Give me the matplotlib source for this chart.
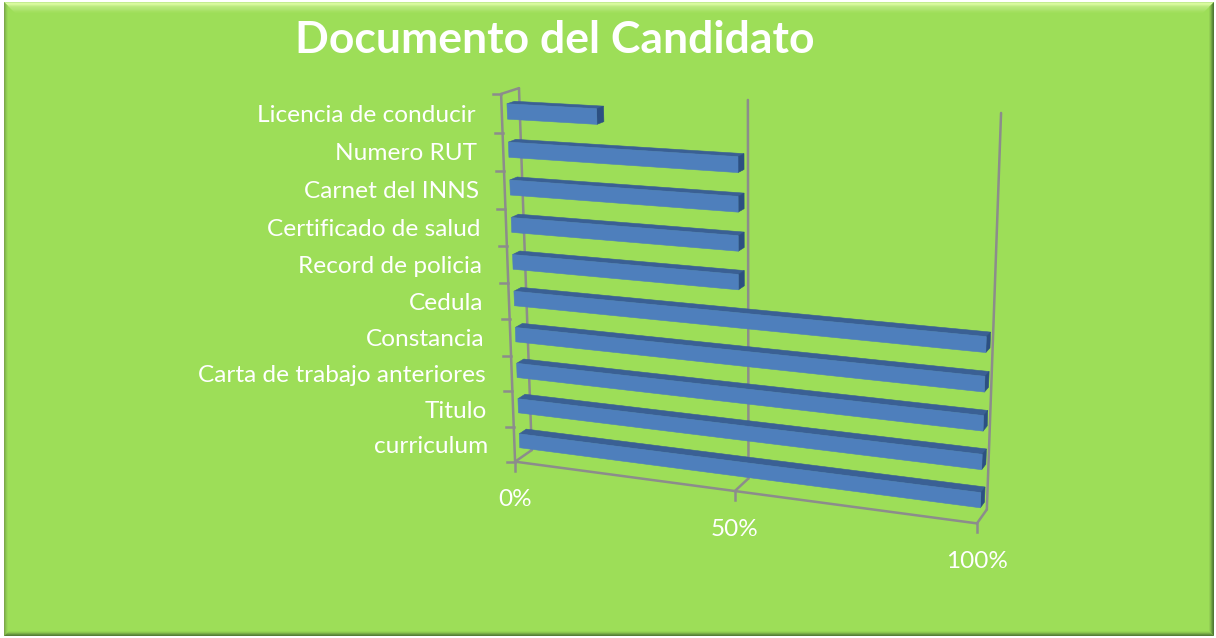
import numpy as np
import matplotlib
matplotlib.use('Agg')
import matplotlib.pyplot as plt

categories = ['curriculum', 'Titulo', 'Carta de trabajo anteriores', 'Constancia', 'Cedula',
              'Record de policia', 'Certificado de salud', 'Carnet del INNS', 'Numero RUT',
              'Licencia de conducir']
values = [100, 100, 100, 100, 100, 50, 50, 50, 50, 20]
x_ticks = [0, 50, 100]
x_tick_labels = ['0%', '50%', '100%']
title = 'Documento del Candidato'

W, H = 1216, 638
GREEN = '#9DDE58'
GRID = '#8C8C8C'
FRONT = '#4E7FBC'
TOP = '#3A6094'
SIDE = '#2C5082'

# where corners of the 3d box land in the picture: (value, category, depth) -> (px, py)
box_world = np.array([[0, 0, 0], [50, 0, 0], [100, 0, 0], [0, 0, 1], [50, 0, 1], [100, 0, 1],
                      [0, 10, 0], [0, 10, 1], [50, 10, 1], [100, 10, 1]], float)
box_pixel = np.array([[515, 462], [735, 491], [977, 523], [532, 450], [748, 478], [987, 510],
                      [501, 94], [519, 88], [748, 100], [1001, 113]], float)


def fit_camera(world, pixel):
    rows = []
    for (a, b, c), (u, v) in zip(world, pixel):
        p = [a, b, c, 1]
        rows.append(p + [0, 0, 0, 0] + [-u * q for q in p])
        rows.append([0, 0, 0, 0] + p + [-v * q for q in p])
    return np.linalg.svd(np.array(rows))[2][-1].reshape(3, 4)


cam = fit_camera(box_world, box_pixel)


def project(a, b, c):
    u, v, w = cam @ np.array([a, b, c, 1.0])
    return u / w, v / w


fig = plt.figure(figsize=(W / 100, H / 100), dpi=100)
fig.patch.set_facecolor('white')
ax = fig.add_axes([0, 0, 1, 1])
ax.set_xlim(0, W)
ax.set_ylim(H, 0)
ax.axis('off')

# chart area with bevelled edges
L, T, R, B = 4, 2, 1214, 636
ax.fill([L, R, R, L], [T, T, B, B], color=GREEN, lw=0, zorder=0)
top_band = ['#C4EC90', '#D9FA9F', '#D6F89A', '#C8F08E', '#BCEA80', '#B6E878', '#B2E675', '#AEE470',
            '#A8E268', '#A4E060', '#A0DF5C']
for i, c in enumerate(top_band):
    ax.fill([L + i, R - i, R - i - 1, L + i + 1], [T + i, T + i, T + i + 1, T + i + 1], color=c, lw=0, zorder=1)
left_band = ['#7DA84A', '#86BC4E', '#90CC52', '#98D856']
for i, c in enumerate(left_band):
    ax.fill([L + i, L + i + 1, L + i + 1, L + i], [T + i, T + i + 1, B - i - 1, B - i], color=c, lw=0, zorder=1)
right_band = ['#4F7A32', '#5E8C3A', '#72A544', '#86BE4C', '#94D054']
for i, c in enumerate(right_band):
    ax.fill([R - i, R - i - 1, R - i - 1, R - i], [T + i, T + i + 1, B - i - 1, B - i], color=c, lw=0, zorder=1)
bottom_band = ['#567F36', '#66943E', '#7AAE48', '#8CC650', '#96D654']
for i, c in enumerate(bottom_band):
    ax.fill([L + i, R - i, R - i - 1, L + i + 1], [B - i, B - i, B - i - 1, B - i - 1], color=c, lw=0, zorder=1)


def line3d(p, q, z=2):
    a, b = project(*p), project(*q)
    ax.plot([a[0], b[0]], [a[1], b[1]], color=GRID, lw=1.8, zorder=z, solid_capstyle='round')


# walls and gridlines
line3d((0, 0, 0), (0, 10, 0))
line3d((0, 10, 0), (0, 10, 1))
line3d((0, 0, 0), (100, 0, 0), z=2)
for t in x_ticks:
    line3d((t, 0, 0), (t, 0, 1))
    line3d((t, 0, 1), (t, 10, 1))
    px, py = project(t, 0, 0)
    ax.plot([px, px], [py, py + 9], color=GRID, lw=1.8, zorder=2)
for k in range(len(categories) + 1):
    px, py = project(0, k, 0)
    ax.plot([px - 8, px], [py, py], color=GRID, lw=1.8, zorder=2)

# bars
bar_h = 0.4
d0, d1 = 0.3, 0.72
for i, val in enumerate(values):
    y0, y1 = i + 0.5 - bar_h / 2, i + 0.5 + bar_h / 2
    faces = [
        ([(0, y1, d0), (val, y1, d0), (val, y1, d1), (0, y1, d1)], TOP),
        ([(val, y0, d0), (val, y0, d1), (val, y1, d1), (val, y1, d0)], SIDE),
        ([(0, y0, d0), (val, y0, d0), (val, y1, d0), (0, y1, d0)], FRONT),
    ]
    for corners, col in faces:
        pts = np.array([project(*c) for c in corners])
        ax.fill(pts[:, 0], pts[:, 1], color=col, lw=0.4, zorder=3)

# text
for i, name in enumerate(categories):
    px, py = project(0, i + 0.5, 0)
    ax.text(px - 26, py + 2.2, name, color='white', family='Lato', fontsize=17.6, ha='right', va='center', zorder=5)
for t, lab in zip(x_ticks, x_tick_labels):
    px, py = project(t, 0, 0)
    ax.text(px, py + 38, lab, color='white', family='Lato', fontsize=17.5, ha='center', va='center', zorder=5)
ax.text(555, 40, title, color='white', family='Lato', fontweight='bold', fontsize=32, ha='center', va='center', zorder=5)

fig.savefig('out.png', dpi=100)
